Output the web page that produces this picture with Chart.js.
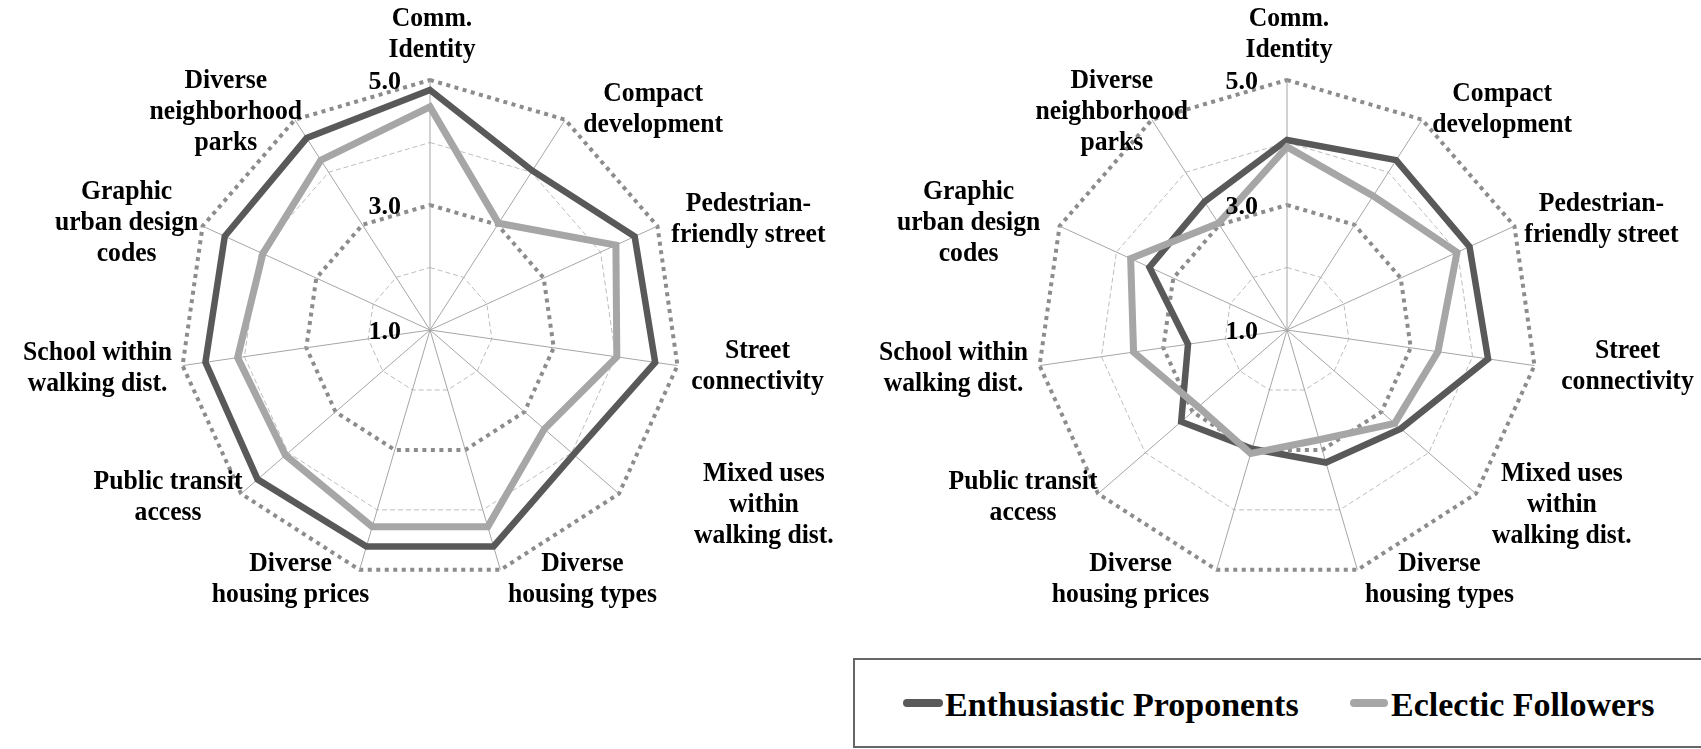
<!DOCTYPE html>
<html>
<head>
<meta charset="utf-8">
<script src="https://cdn.jsdelivr.net/npm/chart.js@4.4.0/dist/chart.umd.min.js"></script>
<style>
  html, body { margin: 0; padding: 0; background: #fff; }
  body { width: 1701px; height: 749px; overflow: hidden; position: relative; }
  canvas { position: absolute; top: 0; }
  #c1 { left: 0; }
  #c2 { left: 857px; }
  #legendBox { position: absolute; left: 853px; top: 658px; width: 900px; height: 90px;
    border: 2px solid #666; border-right: none; box-sizing: border-box; background: #fff; z-index: 2; }
  .sw { position: absolute; height: 8px; border-radius: 4px; z-index: 3; }
  .lt { position: absolute; font-family: "Liberation Serif", "Times New Roman", serif; font-weight: bold;
    font-size: 34px; line-height: 34px; color: #000; white-space: nowrap; z-index: 3; }
</style>
</head>
<body>
<canvas id="c1" width="857" height="749"></canvas>
<canvas id="c2" width="844" height="749"></canvas>
<div id="legendBox"></div>
<div class="sw" id="sw1" style="left:903px;top:699px;width:40px;"></div>
<div class="lt" id="lt1" style="left:945px;top:688px;"></div>
<div class="sw" id="sw2" style="left:1350px;top:699px;width:38px;"></div>
<div class="lt" id="lt2" style="left:1391px;top:688px;"></div>
<script>
// ---------------- DATA ----------------
const CATEGORIES = [
  ["Comm.", "Identity"],
  ["Compact", "development"],
  ["Pedestrian-", "friendly street"],
  ["Street", "connectivity"],
  ["Mixed uses", "within", "walking dist."],
  ["Diverse", "housing types"],
  ["Diverse", "housing prices"],
  ["Public transit", "access"],
  ["School within", "walking dist."],
  ["Graphic", "urban design", "codes"],
  ["Diverse", "neighborhood", "parks"]
];
const SERIES_NAMES = ["Enthusiastic Proponents", "Eclectic Followers"];

// Left chart
const LEFT_ENTHUSIASTIC = [4.84, 4.03, 4.60, 4.64, 4.04, 4.61, 4.61, 4.65, 4.63, 4.61, 4.65];
const LEFT_ECLECTIC     = [4.57, 3.03, 4.27, 4.02, 3.42, 4.28, 4.28, 4.06, 4.11, 3.94, 4.23];
// Right chart
const RIGHT_ENTHUSIASTIC = [4.04, 4.23, 4.21, 4.25, 3.41, 3.21, 2.98, 3.24, 2.60, 3.42, 3.44];
const RIGHT_ECLECTIC     = [3.93, 3.55, 3.99, 3.44, 3.28, 2.83, 3.06, 2.88, 3.48, 3.75, 3.03];

const SCALE_MIN = 1, SCALE_MAX = 5, SCALE_STEP = 1;
const TICK_VALUES = [1, 3, 5];
const TICK_LABELS = ["1.0", "3.0", "5.0"];

// ---------------- STYLE / LAYOUT ----------------
const DARK = '#595959', LIGHT = '#a6a6a6';
const LABEL_FONT = 'bold 27px "Liberation Serif", "Times New Roman", serif';
const TICK_FONT = 'bold 26px "Liberation Serif", "Times New Roman", serif';
const LABEL_SX = 0.95;
const LINE_H = 31;
// label box centre offsets from the outer end of each axis
const LEFT_LABEL_OFFSETS = [[2,-45],[88,-10],[91,-7],[80,1],[145,11],[82,10],[-69,10],[-73,4],[-85,3],[-76,-3],[-69,-8]];
const RIGHT_LABEL_OFFSETS = [[2,-45],[80,-10],[87,-7],[93,1],[86,11],[82,10],[-86,10],[-75,4],[-86,3],[-91,-3],[-40,-8]];

function labelPlugin(offsets) {
  return {
    id: 'customLabels',
    afterDraw(chart) {
      const scale = chart.scales.r;
      const ctx = chart.ctx;
      ctx.save();
      ctx.fillStyle = '#000';
      ctx.font = LABEL_FONT;
      ctx.textAlign = 'center';
      ctx.textBaseline = 'middle';
      const R = scale.getDistanceFromCenterForValue(SCALE_MAX);
      chart.data.labels.forEach((lines, i) => {
        const p = scale.getPointPosition(i, R);
        const cx = p.x + offsets[i][0], cy = p.y + offsets[i][1];
        const n = lines.length;
        lines.forEach((t, k) => {
          ctx.save();
          ctx.translate(cx, cy + (k - (n - 1) / 2) * LINE_H);
          ctx.scale(LABEL_SX, 1);
          ctx.fillText(t, 0, 0);
          ctx.restore();
        });
      });
      ctx.font = TICK_FONT;
      ctx.textAlign = 'right';
      TICK_VALUES.forEach((v, k) => {
        const d = scale.getDistanceFromCenterForValue(v);
        ctx.fillText(TICK_LABELS[k], scale.xCenter - 29, scale.yCenter - d + 2);
      });
      ctx.restore();
    }
  };
}

function makeChart(id, dark, light, offsets, padRight) {
  return new Chart(document.getElementById(id), {
    type: 'radar',
    data: {
      labels: CATEGORIES,
      datasets: [
        { label: SERIES_NAMES[1], data: light, borderColor: LIGHT, borderWidth: 7, fill: false,
          pointRadius: 0, pointHoverRadius: 0, tension: 0, borderJoinStyle: 'miter' },
        { label: SERIES_NAMES[0], data: dark, borderColor: DARK, borderWidth: 6.5, fill: false,
          pointRadius: 0, pointHoverRadius: 0, tension: 0, borderJoinStyle: 'miter' }
      ]
    },
    options: {
      responsive: false,
      animation: false,
      devicePixelRatio: 1,
      layout: { padding: { left: 180, right: padRight, top: 80, bottom: 169 } },
      plugins: { legend: { display: false }, tooltip: { enabled: false } },
      scales: {
        r: {
          min: SCALE_MIN, max: SCALE_MAX,
          ticks: { display: false, stepSize: SCALE_STEP },
          pointLabels: { display: false },
          angleLines: { color: '#a6a6a6', lineWidth: 1 },
          grid: {
            circular: false,
            color: c => (c.tick && c.tick.value % 2 === 1) ? '#8c8c8c' : '#bdbdbd',
            lineWidth: c => (c.tick && c.tick.value % 2 === 1) ? 4 : 1
          },
          border: {
            dash: c => (c.tick && c.tick.value % 2 === 1) ? [4, 4.5] : [5, 3]
          }
        }
      }
    },
    plugins: [labelPlugin(offsets)]
  });
}

makeChart('c1', LEFT_ENTHUSIASTIC, LEFT_ECLECTIC, LEFT_LABEL_OFFSETS, 177);
makeChart('c2', RIGHT_ENTHUSIASTIC, RIGHT_ECLECTIC, RIGHT_LABEL_OFFSETS, 164);

// HTML legend
document.getElementById('sw1').style.background = DARK;
document.getElementById('sw2').style.background = LIGHT;
document.getElementById('lt1').textContent = SERIES_NAMES[0];
document.getElementById('lt2').textContent = SERIES_NAMES[1];
</script>
</body>
</html>
